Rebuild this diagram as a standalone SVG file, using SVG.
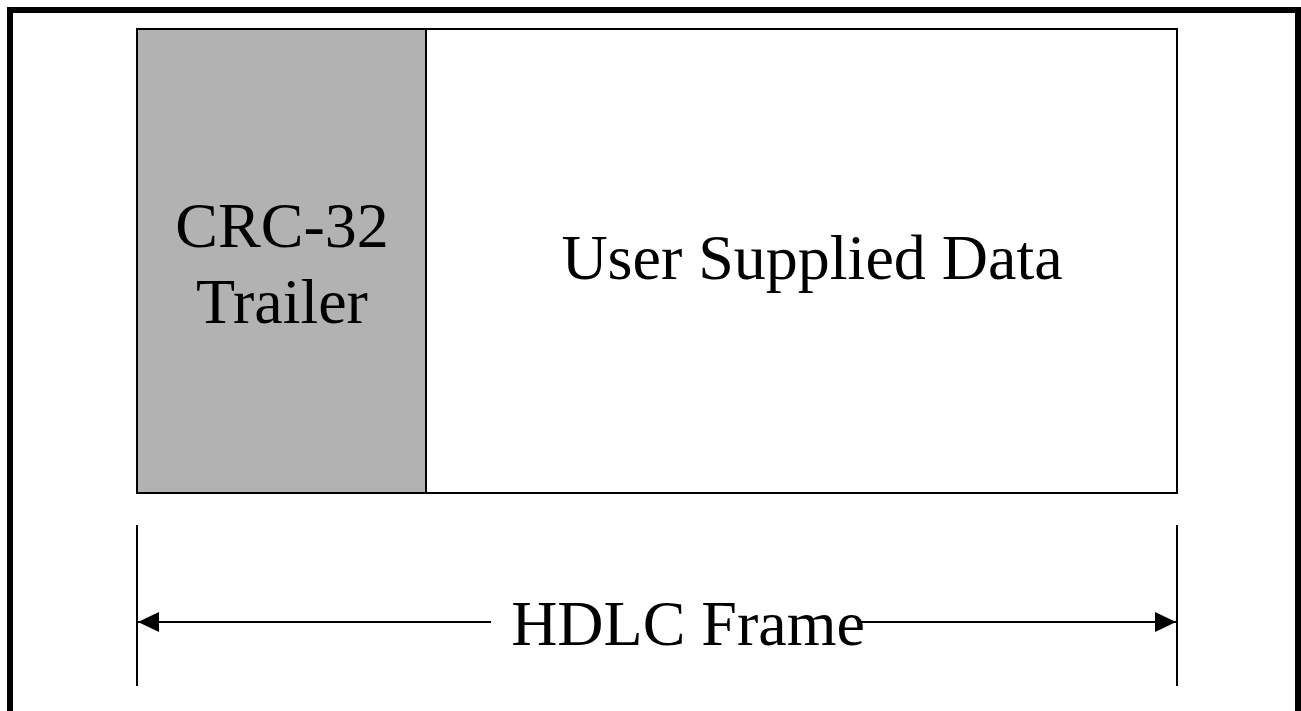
<svg xmlns="http://www.w3.org/2000/svg" width="1301" height="711" viewBox="0 0 1301 711">
<style>
.lbl{font-family:"Liberation Serif","Times New Roman",serif;font-size:64px;fill:#000;text-anchor:middle}
.ln{stroke:#000;stroke-width:2;fill:none}
</style>
<defs>
<marker id="ah" markerWidth="22" markerHeight="22" refX="21" refY="10" orient="auto" markerUnits="userSpaceOnUse">
<path d="M0,0 L21,10 L0,20 Z" fill="#000"/>
</marker>
</defs>
<rect width="1301" height="711" fill="#fff"/>
<rect x="10" y="10" width="1288" height="730" fill="none" stroke="#000" stroke-width="6"/>
<g id="frame">
<rect x="137" y="29" width="1040" height="464" fill="#fff" stroke="#000" stroke-width="2"/>
</g>
<g id="crc">
<rect x="137" y="29" width="289" height="464" fill="#b2b2b2" stroke="#000" stroke-width="2"/>
<text class="lbl" x="282" y="247">CRC-32</text>
<text class="lbl" x="282" y="323">Trailer</text>
</g>
<g id="data">
<text class="lbl" x="812" y="279">User Supplied Data</text>
</g>
<g id="connectors">
<line class="ln" x1="137" y1="525" x2="137" y2="686"/>
<line class="ln" x1="1177" y1="525" x2="1177" y2="686"/>
<line class="ln" x1="491" y1="622" x2="138" y2="622" marker-end="url(#ah)"/>
<line class="ln" x1="858" y1="622" x2="1176" y2="622" marker-end="url(#ah)"/>
</g>
<g id="label">
<text class="lbl" x="688" y="645">HDLC Frame</text>
</g>
</svg>
